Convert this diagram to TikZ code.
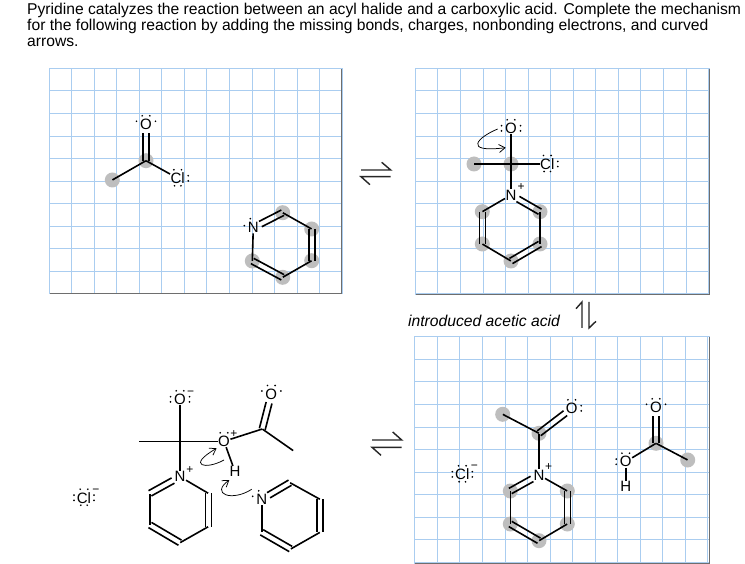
\documentclass[tikz,border=0pt]{standalone}
\usepackage{fontspec}
\setmainfont{Liberation Sans}
\usetikzlibrary{calc,arrows.meta}
\definecolor{gridblue}{RGB}{170,205,240}
\definecolor{frameg}{RGB}{110,110,110}
\definecolor{halo}{RGB}{190,190,190}
\tikzset{
  x=1pt,y=-1pt,
  bondline/.style={line width=1.6pt,black},
  atom/.style={font=\fontsize{15}{15}\selectfont,inner sep=0.4pt,text=black},
  carbon/.style={circle,inner sep=0pt,minimum size=0pt},
  halonode/.style={circle,fill=halo,inner sep=0pt,minimum size=15pt},
  charge/.style={font=\fontsize{12}{12}\selectfont,inner sep=0pt},
  ldot/.style={circle,fill=black,inner sep=0pt,minimum size=1.9pt},
  curved/.style={line width=0.75pt,-{Straight Barb[length=6pt,width=8pt]}},
  harpoon/.style={line width=1.4pt,black!85},
  bodytext/.style={font=\fontsize{15.65}{16.4}\selectfont,inner sep=0pt,anchor=north west,align=left}
}
\newcommand{\gridpanel}[4]{%
  \begin{scope}[gridblue,line width=0.8pt]
  \foreach \i in {0,...,13} {\draw ({#1+\i*22.55},#2) -- ({#1+\i*22.55},#4);}
  \foreach \j in {0,...,10} {\draw (#1,{#2+\j*22.55}) -- (#3,{#2+\j*22.55});}
  \end{scope}
  \draw[frameg,line width=1pt] (#1,#4) -- (#3,#4) -- (#3,#2);
  \draw[gridblue,line width=0.8pt] (#1,#4) -- (#1,#2) -- (#3,#2);
}
\newcommand{\sbond}[2]{\draw[bondline] (#1) -- (#2);}
% double bond: #3, #4 = how far each end stops short of the centre of its atom
\newcommand{\dbond}[4]{%
  \draw[bondline,shorten <=#3pt,shorten >=#4pt] ($(#1)!3pt!90:(#2)$) -- ($(#2)!3pt!-90:(#1)$);
  \draw[bondline,shorten <=#3pt,shorten >=#4pt] ($(#1)!3pt!-90:(#2)$) -- ($(#2)!3pt!90:(#1)$);
}
% lone pairs, relative to the atom centre
\newcommand{\lpT}[1]{\foreach \dx in {-3.8,3.8} {\node[ldot] at ($(#1)+(\dx,-8.5)$) {};}}
\newcommand{\lpB}[1]{\foreach \dx in {-3.2,3.2} {\node[ldot] at ($(#1)+(\dx,7.5)$) {};}}
\newcommand{\lpL}[2][9.5]{\foreach \dy in {-2.6,2.6} {\node[ldot] at ($(#2)+(-#1,\dy)$) {};}}
\newcommand{\lpR}[2][9.5]{\foreach \dy in {-2.6,2.6} {\node[ldot] at ($(#2)+(#1,\dy)$) {};}}
% four dots of an oxygen drawn with two dots above and one dot on each side
\newcommand{\lpFour}[1]{\foreach \dx/\dy in {-9.5/-3,-3.8/-8.5,3.8/-8.5,9.5/-3} {\node[ldot] at ($(#1)+(\dx,\dy)$) {};}}
\begin{document}
\begin{tikzpicture}
\useasboundingbox (0,0) rectangle (745,564);
\fill[white] (0,0) rectangle (745,564);

\node[bodytext] (title) at (27,2.6) {Pyridine catalyzes the reaction between an acyl halide and a carboxylic acid. Complete the mechanism\\for the following reaction by adding the missing bonds, charges, nonbonding electrons, and curved\\arrows.};

\gridpanel{49}{68.3}{341.5}{294}
\gridpanel{415.3}{68.3}{709.5}{295}
\gridpanel{414.7}{336.7}{709.5}{563.5}

% ---------- Panel 1
\foreach \hx/\hy in {112.3/180,146/160.7,282.7/212.7,311.7/229,311.7/260.7,282.7/277.3,252.3/261}
  \node[halonode] at (\hx,\hy) {};
\node[carbon] (a1) at (112.3,180) {};
\node[carbon] (a2) at (146,160.7) {};
\node[atom] (a3) at (146,124.3) {O};
\node[atom] (a4) at (177.7,178.3) {Cl};
\sbond{a1}{a2}\dbond{a2}{a3}{0}{9}\sbond{a2}{a4}
\lpFour{a3}
\lpT{a4}\lpB{a4}\lpR[10.5]{a4}
\node[atom] (b1) at (253.3,227.7) {N};
\node[carbon] (b2) at (282.7,212.7) {};
\node[carbon] (b3) at (311.7,229) {};
\node[carbon] (b4) at (311.7,260.7) {};
\node[carbon] (b5) at (282.7,277.3) {};
\node[carbon] (b6) at (252.3,261) {};
\dbond{b1}{b2}{8}{0}\sbond{b2}{b3}\dbond{b3}{b4}{0}{0}\sbond{b4}{b5}\dbond{b5}{b6}{0}{0}\sbond{b6}{b1}
\node[ldot] at ($(b1)+(-9,-2)$) {};
\node[ldot] at ($(b1)+(-3,-9)$) {};

% ---------- Panel 2
\foreach \hx/\hy in {474/164,511/164,540/211.7,540/244,511/261,482.3/244,482.3/211.7}
  \node[halonode] at (\hx,\hy) {};
\node[carbon] (c1) at (474,164) {};
\node[carbon] (c2) at (511,164) {};
\node[atom] (c3) at (511,128.3) {O};
\node[atom] (c4) at (547.3,164) {Cl};
\node[atom] (c5) at (511,195) {N};
\node[charge] (c5p) at (521,187.5) {+};
\sbond{c1}{c2}\sbond{c2}{c3}\sbond{c2}{c4}\sbond{c2}{c5}
\lpT{c3}\lpL{c3}\lpR{c3}
\lpT{c4}\lpB{c4}\lpR[10.5]{c4}
\node[carbon] (c6) at (540,211.7) {};
\node[carbon] (c7) at (540,244) {};
\node[carbon] (c8) at (511,261) {};
\node[carbon] (c9) at (482.3,244) {};
\node[carbon] (c10) at (482.3,211.7) {};
\dbond{c5}{c6}{8}{0}\sbond{c6}{c7}\dbond{c7}{c8}{0}{0}\sbond{c8}{c9}\dbond{c9}{c10}{0}{0}\sbond{c10}{c5}
\coordinate (c3a) at (497.7,129);
\coordinate (c2a) at (505.7,147.7);
\draw[curved] (c3a) .. controls (478,137) and (462,153) .. (c2a);

% ---------- Panel 3
\foreach \hx/\hy in {502.7/414.3,539/433.3,567.3/491,567.3/524,539/540.7,510.3/524,510.3/491,656/443.3,687.7/460}
  \node[halonode] at (\hx,\hy) {};
\node[carbon] (d1) at (502.7,414.3) {};
\node[carbon] (d2) at (539,433.3) {};
\node[atom] (d3) at (571.7,408.3) {O};
\node[atom] (d4) at (539,475) {N};
\node[charge] (d4p) at (548.5,467.5) {+};
\sbond{d1}{d2}\dbond{d2}{d3}{0}{8}\sbond{d2}{d4}
\lpT{d3}\lpR{d3}
\node[carbon] (d5) at (567.3,491) {};
\node[carbon] (d6) at (567.3,524) {};
\node[carbon] (d7) at (539,540.7) {};
\node[carbon] (d8) at (510.3,524) {};
\node[carbon] (d9) at (510.3,491) {};
\sbond{d4}{d5}\dbond{d5}{d6}{0}{0}\sbond{d6}{d7}\dbond{d7}{d8}{0}{0}\sbond{d8}{d9}\dbond{d9}{d4}{0}{8}
\node[atom] (e1) at (462.3,474.3) {Cl};
\node[charge] (e1m) at (474.3,467.5) {−};
\lpT{e1}\lpB{e1}\lpL[10]{e1}\lpR[10]{e1}
\node[carbon] (f1) at (656,443.3) {};
\node[atom] (f2) at (656,407.3) {O};
\node[carbon] (f3) at (687.7,460) {};
\node[atom] (f4) at (625.7,461.7) {O};
\node[atom] (f5) at (625.7,486.7) {H};
\dbond{f1}{f2}{0}{9}\sbond{f1}{f3}\sbond{f1}{f4}\sbond{f4}{f5}
\lpFour{f2}
\lpT{f4}\lpL{f4}

% ---------- Bottom-left
\node[atom] (g1) at (180,399.3) {O};
\node[charge] (g1m) at (190.7,393) {−};
\lpT{g1}\lpL{g1}\lpR{g1}
\node[carbon] (g2) at (180,441.3) {};
\node[carbon] (g3) at (139,441.3) {};
\node[atom] (g4) at (224,441.3) {O};
\node[charge] (g4p) at (234,434) {+};
\lpT{g4}
\node[carbon] (g5) at (262.3,429) {};
\node[atom] (g6) at (271.3,394) {O};
\lpFour{g6}
\node[carbon] (g7) at (293.3,450.7) {};
\node[atom] (g8) at (180,476.7) {N};
\node[charge] (g8p) at (190,470) {+};
\node[atom] (g9) at (235,471.7) {H};
\sbond{g1}{g2}\sbond{g3}{g2}\sbond{g2}{g4}\sbond{g2}{g8}\sbond{g4}{g5}\dbond{g5}{g6}{0}{9}\sbond{g5}{g7}\sbond{g4}{g9}
\node[carbon] (h1) at (208.3,493.3) {};
\node[carbon] (h2) at (208.3,526.7) {};
\node[carbon] (h3) at (180,542.7) {};
\node[carbon] (h4) at (150,525) {};
\node[carbon] (h5) at (150,493.3) {};
\sbond{g8}{h1}\dbond{h1}{h2}{0}{0}\sbond{h2}{h3}\dbond{h3}{h4}{0}{0}\sbond{h4}{h5}\dbond{h5}{g8}{0}{8}
\node[atom] (i1) at (261.7,499.3) {N};
\node[carbon] (i2) at (290,482.7) {};
\node[carbon] (i3) at (320,499.3) {};
\node[carbon] (i4) at (320,532.3) {};
\node[carbon] (i5) at (290.7,549) {};
\node[carbon] (i6) at (261.7,532.3) {};
\dbond{i1}{i2}{8}{0}\sbond{i2}{i3}\dbond{i3}{i4}{0}{0}\sbond{i4}{i5}\dbond{i5}{i6}{0}{0}\sbond{i6}{i1}
\node[ldot] at ($(i1)+(-9,-3)$) {};
\node[ldot] at ($(i1)+(-3,-8.5)$) {};
\node[atom] (j1) at (84,497.7) {Cl};
\node[charge] (j1m) at (96,491.5) {−};
\lpT{j1}\lpB{j1}\lpL[10]{j1}\lpR[10]{j1}
\coordinate (k1) at (224,460);
\coordinate (k2) at (216.7,448.3);
\draw[curved] (k1) .. controls (206,470) and (186,466) .. (k2);
\coordinate (k3) at (251.7,489.3);
\coordinate (k4) at (229.3,480);
\draw[curved] (k3) .. controls (232,502) and (210,494) .. (k4);

% ---------- Equilibrium arrows
\coordinate (q1a) at (361,170); \coordinate (q1b) at (390.7,170);
\coordinate (q1c) at (390.7,176.7); \coordinate (q1d) at (361,176.7);
\draw[harpoon] (q1a) -- (q1b) -- ++(-9,-7.7);
\draw[harpoon] (q1c) -- (q1d) -- ++(9,8);
\coordinate (q2a) at (372,440); \coordinate (q2b) at (401.7,440);
\coordinate (q2c) at (401.7,447.3); \coordinate (q2d) at (372,447.3);
\draw[harpoon] (q2a) -- (q2b) -- ++(-9,-8);
\draw[harpoon] (q2c) -- (q2d) -- ++(9,8);
\coordinate (q3a) at (582,328); \coordinate (q3b) at (582,302);
\coordinate (q3c) at (589,302); \coordinate (q3d) at (589,328);
\draw[harpoon] (q3a) -- (q3b) -- ++(-6,6.7);
\draw[harpoon] (q3c) -- (q3d) -- ++(7,-6.7);

\node[font=\fontsize{15.7}{16}\selectfont\itshape,inner sep=0pt] (lab) at (484,321) {introduced acetic acid};
\end{tikzpicture}
\end{document}
